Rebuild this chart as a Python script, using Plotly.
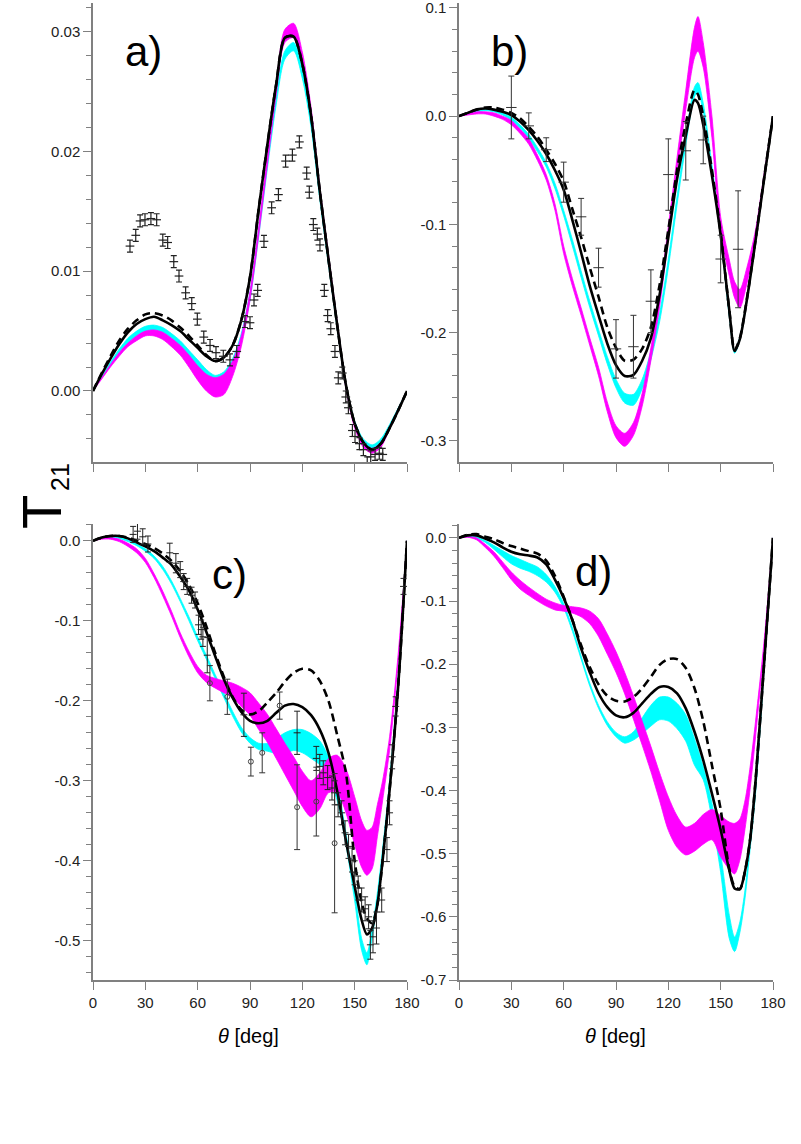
import plotly.graph_objects as go

# ---------------- tick definitions ----------------
THETA_TICKS = [0, 30, 60, 90, 120, 150, 180]
THETA_LABELS = ["0", "30", "60", "90", "120", "150", "180"]

A_YTICKS = [0.0, 0.01, 0.02, 0.03]
A_YLABELS = ["0.00", "0.01", "0.02", "0.03"]
B_YTICKS = [-0.3, -0.2, -0.1, 0.0, 0.1]
B_YLABELS = ["-0.3", "-0.2", "-0.1", "0.0", "0.1"]
C_YTICKS = [-0.5, -0.4, -0.3, -0.2, -0.1, 0.0]
C_YLABELS = ["-0.5", "-0.4", "-0.3", "-0.2", "-0.1", "0.0"]
D_YTICKS = [-0.7, -0.6, -0.5, -0.4, -0.3, -0.2, -0.1, 0.0]
D_YLABELS = ["-0.7", "-0.6", "-0.5", "-0.4", "-0.3", "-0.2", "-0.1", "0.0"]

PANEL_LABELS = ["a)", "b)", "c)", "d)"]
X_TITLE = "<i>θ</i> [deg]"

# ---------------- panel a ----------------
A_THETA = [0, 5, 10, 15, 20, 25, 30, 35, 40, 45, 50, 55, 60, 65, 70, 75, 80, 85, 90,
           95, 100, 105, 110, 115, 120, 125, 130, 135, 140, 145, 150, 155, 160, 165, 170, 175, 180]
A_SOLID = [0, 0.0014, 0.0027, 0.0039, 0.0049, 0.0056, 0.0060, 0.0062, 0.0059, 0.0055, 0.0050, 0.0043,
           0.0036, 0.0029, 0.0025, 0.0028, 0.0038, 0.0059, 0.0095, 0.0152, 0.0206, 0.0256, 0.0295, 0.0296,
           0.0273, 0.0230, 0.0167, 0.0110, 0.0055, 0.0005, -0.0027, -0.0043, -0.0049, -0.0044, -0.0031, -0.0016, 0]
A_DASHED = [0, 0.0015, 0.0029, 0.0042, 0.0052, 0.0059, 0.0064, 0.0065, 0.0063, 0.0059, 0.0053, 0.0046,
            0.0038, 0.0030, 0.0025, 0.0028, 0.0038, 0.0059, 0.0095, 0.0152, 0.0206, 0.0256, 0.0295, 0.0296,
            0.0273, 0.0230, 0.0167, 0.0110, 0.0055, 0.0005, -0.0027, -0.0043, -0.0049, -0.0044, -0.0031, -0.0016, 0]
A_CYAN_HI = [0, 0.0012, 0.0024, 0.0035, 0.0044, 0.0050, 0.0054, 0.0055, 0.0053, 0.0048, 0.0042, 0.0034,
             0.0026, 0.0018, 0.0013, 0.0016, 0.0027, 0.0048, 0.0083, 0.0136, 0.0193, 0.0246, 0.0284, 0.0291,
             0.0268, 0.0226, 0.0165, 0.0110, 0.0056, 0.0006, -0.0025, -0.0040, -0.0045, -0.0040, -0.0028, -0.0014, 0]
A_CYAN_LO = [0, 0.0011, 0.0022, 0.0032, 0.0040, 0.0046, 0.0050, 0.0051, 0.0049, 0.0044, 0.0037, 0.0029,
             0.0020, 0.0013, 0.0009, 0.0012, 0.0022, 0.0042, 0.0076, 0.0129, 0.0186, 0.0239, 0.0277, 0.0284,
             0.0261, 0.0220, 0.0160, 0.0105, 0.0052, 0.0003, -0.0028, -0.0043, -0.0048, -0.0043, -0.0030, -0.0015, 0]
A_MAG_HI = [0, 0.0011, 0.0022, 0.0032, 0.0040, 0.0046, 0.0050, 0.0051, 0.0049, 0.0044, 0.0038, 0.0030,
            0.0021, 0.0014, 0.0011, 0.0014, 0.0025, 0.0046, 0.0083, 0.0137, 0.0197, 0.0256, 0.0302, 0.0307,
            0.0283, 0.0237, 0.0171, 0.0114, 0.0058, 0.0006, -0.0027, -0.0043, -0.0048, -0.0043, -0.0030, -0.0015, 0]
A_MAG_LO = [0, 0.0010, 0.0020, 0.0029, 0.0037, 0.0042, 0.0046, 0.0046, 0.0043, 0.0037, 0.0030, 0.0020,
            0.0009, 0.0000, -0.0005, -0.0003, 0.0012, 0.0037, 0.0076, 0.0130, 0.0189, 0.0247, 0.0291, 0.0295,
            0.0273, 0.0229, 0.0165, 0.0109, 0.0054, 0.0002, -0.0031, -0.0047, -0.0052, -0.0047, -0.0032, -0.0016, 0]
A_DATA_THETA = [21.2, 24.5, 27, 29.8, 33.2, 36.5, 40, 42.8, 46.3, 49.3, 53.1, 56.6, 59.8, 63.5, 67.1, 70.5,
                74.7, 78.5, 82.4, 87.1, 90, 92.3, 94.4, 98, 102.4, 106.3, 110.4, 114.3, 118.3, 122.5, 124,
                126.3, 128.6, 130.1, 132.6, 134.5, 136.3, 138.7, 140.6, 142.9, 144.9, 146.4, 148.7, 150.2,
                152.7, 155, 157.2, 159.2, 161.7, 164.1, 166.1]
A_DATA_VAL = [0.0121, 0.0130, 0.0142, 0.0143, 0.0144, 0.0143, 0.0126, 0.0124, 0.0108, 0.0096, 0.0082,
              0.0073, 0.0060, 0.0045, 0.0038, 0.0032, 0.0029, 0.0026, 0.0033, 0.0058, 0.0057, 0.0076, 0.0084,
              0.0125, 0.0153, 0.0164, 0.0192, 0.0197, 0.0208, 0.0182, 0.0166, 0.0139, 0.0131, 0.0122, 0.0084,
              0.0063, 0.0052, 0.0033, 0.0011, 0.0015, -0.0005, -0.0014, -0.0033, -0.0038, -0.0044, -0.0049,
              -0.0060, -0.0055, -0.0053, -0.0052, -0.0053]
A_DATA_ERR = [0.0005] * len(A_DATA_THETA)
A_DATA_XERR = [2.5] * len(A_DATA_THETA)

# ---------------- panel b ----------------
B_THETA = [0, 5, 10, 15, 20, 25, 30, 35, 40, 45, 50, 55, 60, 65, 70, 75, 80, 85, 90, 95, 100, 105, 110,
           115, 120, 125, 130, 135, 137, 140, 145, 150, 155, 158, 161, 165, 170, 175, 180]
B_SOLID = [0, 0.003, 0.006, 0.007, 0.006, 0.004, 0.001, -0.005, -0.013, -0.023, -0.035, -0.05, -0.068,
           -0.096, -0.126, -0.157, -0.184, -0.210, -0.230, -0.240, -0.239, -0.226, -0.205, -0.165, -0.112,
           -0.058, -0.018, 0.015, 0.012, -0.008, -0.055, -0.11, -0.18, -0.217, -0.206, -0.17, -0.115, -0.057, 0]
B_DASHED = [0, 0.003, 0.006, 0.008, 0.008, 0.006, 0.003, -0.002, -0.01, -0.019, -0.031, -0.044, -0.06,
            -0.086, -0.112, -0.14, -0.167, -0.195, -0.214, -0.226, -0.225, -0.215, -0.195, -0.156, -0.105,
            -0.05, -0.007, 0.024, 0.02, 0.0, -0.05, -0.108, -0.18, -0.216, -0.205, -0.169, -0.114, -0.056, 0]
B_CYAN_HI = [0, 0.003, 0.005, 0.006, 0.005, 0.003, -0.001, -0.008, -0.017, -0.029, -0.043, -0.062, -0.087,
             -0.114, -0.143, -0.171, -0.197, -0.222, -0.243, -0.256, -0.257, -0.243, -0.217, -0.182, -0.132,
             -0.074, -0.019, 0.027, 0.031, 0.012, -0.045, -0.108, -0.182, -0.216, -0.204, -0.169, -0.114, -0.056, 0]
B_CYAN_LO = [0, 0.002, 0.004, 0.005, 0.004, 0.001, -0.004, -0.011, -0.021, -0.033, -0.047, -0.067, -0.092,
             -0.12, -0.149, -0.177, -0.203, -0.229, -0.251, -0.265, -0.267, -0.252, -0.225, -0.19, -0.14,
             -0.082, -0.027, 0.018, 0.022, 0.004, -0.05, -0.112, -0.186, -0.219, -0.207, -0.172, -0.116, -0.057, 0]
B_MAG_HI = [0, 0.002, 0.004, 0.004, 0.003, 0.0, -0.004, -0.012, -0.021, -0.036, -0.054, -0.081, -0.12,
            -0.15, -0.177, -0.205, -0.232, -0.264, -0.286, -0.293, -0.283, -0.256, -0.214, -0.164, -0.102,
            -0.038, 0.024, 0.082, 0.092, 0.068, 0.0, -0.093, -0.133, -0.153, -0.16, -0.14, -0.105, -0.052, 0]
B_MAG_LO = [0, 0.001, 0.002, 0.002, 0.0, -0.003, -0.008, -0.016, -0.026, -0.041, -0.059, -0.087, -0.127,
            -0.157, -0.184, -0.212, -0.24, -0.273, -0.297, -0.305, -0.295, -0.268, -0.226, -0.176, -0.114,
            -0.052, 0.006, 0.054, 0.06, 0.045, -0.02, -0.108, -0.148, -0.168, -0.177, -0.155, -0.115, -0.058, 0]
B_DATA_THETA = [30, 40, 50, 60, 70, 80, 90, 100, 110, 120, 130, 140, 150, 160]
B_DATA_VAL = [0.008, -0.009, -0.031, -0.061, -0.093, -0.140, -0.215, -0.213, -0.171, -0.054, -0.032,
              -0.022, -0.132, -0.123]
B_DATA_ERR = [0.029, 0.012, 0.011, 0.0185, 0.017, 0.018, 0.027, 0.029, 0.029, 0.033, 0.027, 0.022, 0.022, 0.054]
B_DATA_XERR = [3] * len(B_DATA_THETA)

# ---------------- panel c ----------------
C_THETA = [0, 5, 10, 15, 20, 25, 30, 35, 40, 45, 50, 55, 60, 65, 70, 75, 80, 85, 90, 95, 100, 105, 110,
           115, 120, 125, 130, 135, 140, 145, 150, 154, 157, 160, 163, 166, 170, 175, 180]
C_SOLID = [0, 0.004, 0.006, 0.006, 0.003, -0.002, -0.007, -0.013, -0.021, -0.030, -0.045, -0.062, -0.086,
           -0.114, -0.144, -0.173, -0.196, -0.214, -0.225, -0.228, -0.225, -0.215, -0.206, -0.204, -0.208,
           -0.218, -0.236, -0.265, -0.313, -0.375, -0.432, -0.474, -0.492, -0.484, -0.455, -0.4, -0.312, -0.18, 0]
C_DASHED = [0, 0.004, 0.006, 0.006, 0.004, 0.0, -0.004, -0.009, -0.016, -0.025, -0.038, -0.055, -0.078,
            -0.107, -0.14, -0.17, -0.195, -0.211, -0.217, -0.213, -0.202, -0.19, -0.176, -0.165, -0.16,
            -0.162, -0.175, -0.2, -0.243, -0.29, -0.40, -0.452, -0.472, -0.478, -0.455, -0.4, -0.312, -0.18, 0]
C_CYAN_HI = [0, 0.004, 0.005, 0.004, 0.001, -0.004, -0.01, -0.019, -0.032, -0.05, -0.072, -0.095, -0.12,
             -0.143, -0.167, -0.19, -0.213, -0.233, -0.246, -0.253, -0.253, -0.247, -0.24, -0.236, -0.236,
             -0.241, -0.25, -0.27, -0.305, -0.365, -0.435, -0.497, -0.515, -0.485, -0.44, -0.385, -0.3, -0.168, 0]
C_CYAN_LO = [0, 0.003, 0.004, 0.003, -0.001, -0.006, -0.013, -0.022, -0.036, -0.054, -0.076, -0.1, -0.125,
             -0.148, -0.172, -0.196, -0.219, -0.239, -0.253, -0.261, -0.263, -0.266, -0.266, -0.262, -0.265,
             -0.272, -0.28, -0.295, -0.325, -0.38, -0.45, -0.512, -0.53, -0.497, -0.45, -0.395, -0.307, -0.172, 0]
C_MAG_HI = [0, 0.003, 0.004, 0.002, -0.003, -0.01, -0.022, -0.041, -0.063, -0.088, -0.115, -0.138, -0.157,
            -0.168, -0.172, -0.175, -0.178, -0.183, -0.19, -0.203, -0.217, -0.235, -0.253, -0.27, -0.288,
            -0.3, -0.29, -0.272, -0.268, -0.285, -0.32, -0.35, -0.362, -0.358, -0.33, -0.3, -0.245, -0.14, 0]
C_MAG_LO = [0, 0.002, 0.002, -0.001, -0.007, -0.015, -0.027, -0.046, -0.069, -0.094, -0.121, -0.145, -0.165,
            -0.177, -0.184, -0.19, -0.196, -0.207, -0.218, -0.236, -0.252, -0.272, -0.292, -0.312, -0.332,
            -0.345, -0.335, -0.315, -0.315, -0.34, -0.38, -0.408, -0.418, -0.41, -0.37, -0.325, -0.262, -0.15, 0]
C_CROSS_THETA = [23, 25.5, 28.5, 31.5, 44, 47.5, 50, 52, 54, 56.5, 58.5, 60.5, 62, 63, 65.5, 86.5, 117,
                 128, 130, 132, 134.5, 137, 138.5, 140.5, 142.5, 144.5, 146.5, 148.5, 150, 152, 154, 156,
                 158, 159, 160.5, 162.5, 165.5, 168.5, 170, 171.5, 173.5, 178]
C_CROSS_VAL = [0.008, 0.012, 0.005, -0.004, -0.015, -0.028, -0.036, -0.051, -0.057, -0.068, -0.074, -0.105,
               -0.111, -0.12, -0.143, -0.2175, -0.24, -0.272, -0.282, -0.29, -0.296, -0.309, -0.315, -0.33,
               -0.34, -0.365, -0.382, -0.399, -0.415, -0.434, -0.449, -0.46, -0.47, -0.505, -0.495, -0.484,
               -0.449, -0.386, -0.34, -0.27, -0.207, -0.057]
C_CROSS_ERR = [0.01, 0.01, 0.01, 0.01, 0.012, 0.012, 0.01, 0.01, 0.01, 0.01, 0.01, 0.012, 0.012, 0.012,
               0.022, 0.027, 0.027, 0.015, 0.015, 0.015, 0.015, 0.015, 0.015, 0.015, 0.015, 0.015, 0.015,
               0.015, 0.015, 0.015, 0.015, 0.015, 0.015, 0.018, 0.02, 0.02, 0.015, 0.015, 0.015, 0.015,
               0.012, 0.01]
C_CROSS_XERR = [2] * len(C_CROSS_THETA)
C_CIRC_THETA = [67, 77, 90.5, 97, 107, 117, 128, 138.5]
C_CIRC_VAL = [-0.178, -0.195, -0.276, -0.265, -0.206, -0.333, -0.326, -0.378]
C_CIRC_ERR = [0.022, 0.022, 0.018, 0.025, 0.017, 0.053, 0.043, 0.087]

# ---------------- panel d ----------------
D_THETA = [0, 5, 10, 15, 20, 25, 30, 35, 40, 45, 50, 55, 60, 65, 70, 75, 80, 85, 90, 95, 100, 105, 110,
           115, 120, 125, 130, 135, 140, 145, 150, 155, 158, 161, 164, 167, 170, 175, 180]
D_SOLID = [0, 0.004, 0.004, -0.001, -0.007, -0.015, -0.022, -0.026, -0.028, -0.031, -0.042, -0.066, -0.095,
           -0.13, -0.175, -0.213, -0.246, -0.268, -0.281, -0.284, -0.277, -0.262, -0.247, -0.236, -0.236,
           -0.246, -0.27, -0.307, -0.352, -0.405, -0.462, -0.527, -0.555, -0.556, -0.527, -0.475, -0.385, -0.195, 0]
D_DASHED = [0, 0.005, 0.006, 0.002, -0.002, -0.008, -0.013, -0.017, -0.021, -0.025, -0.036, -0.06, -0.093,
            -0.13, -0.17, -0.205, -0.232, -0.25, -0.258, -0.259, -0.252, -0.238, -0.22, -0.201, -0.192,
            -0.192, -0.206, -0.238, -0.29, -0.36, -0.43, -0.525, -0.552, -0.556, -0.527, -0.475, -0.385, -0.195, 0]
D_CYAN_HI = [0, 0.003, 0.002, -0.004, -0.012, -0.02, -0.028, -0.034, -0.04, -0.046, -0.058, -0.077, -0.104,
             -0.142, -0.187, -0.23, -0.265, -0.291, -0.308, -0.315, -0.307, -0.285, -0.265, -0.252, -0.252,
             -0.262, -0.28, -0.318, -0.362, -0.42, -0.5, -0.598, -0.632, -0.608, -0.556, -0.475, -0.395, -0.2, 0]
D_CYAN_LO = [0, 0.002, 0.0, -0.007, -0.018, -0.03, -0.041, -0.048, -0.053, -0.06, -0.07, -0.086, -0.111,
             -0.148, -0.192, -0.235, -0.27, -0.297, -0.315, -0.325, -0.32, -0.31, -0.298, -0.288, -0.29,
             -0.302, -0.322, -0.36, -0.383, -0.445, -0.53, -0.635, -0.655, -0.625, -0.57, -0.49, -0.405, -0.205, 0]
D_MAG_HI = [0, 0.002, 0.0, -0.01, -0.022, -0.038, -0.054, -0.067, -0.078, -0.088, -0.097, -0.103, -0.107,
            -0.109, -0.111, -0.116, -0.128, -0.152, -0.18, -0.213, -0.25, -0.29, -0.33, -0.372, -0.41, -0.44,
            -0.458, -0.452, -0.438, -0.43, -0.44, -0.45, -0.452, -0.445, -0.415, -0.36, -0.29, -0.16, 0]
D_MAG_LO = [0, 0.001, -0.003, -0.015, -0.029, -0.047, -0.066, -0.081, -0.091, -0.1, -0.108, -0.114, -0.116,
            -0.119, -0.125, -0.136, -0.156, -0.184, -0.213, -0.247, -0.287, -0.328, -0.37, -0.416, -0.463,
            -0.49, -0.502, -0.496, -0.485, -0.478, -0.505, -0.525, -0.532, -0.51, -0.46, -0.395, -0.315, -0.17, 0]

# ---------------- styling ----------------
MAGENTA = "#FF00FF"
CYAN = "#00FFFF"
BLACK = "#000000"
AXIS_GREY = "#808080"
FONT = "Liberation Sans, Arial, sans-serif"
W, H = 801, 1144


def px_x(p):
    return p / W


def px_y(p):
    return 1 - p / H


XL = [px_x(93), px_x(407)]
XR = [px_x(459), px_x(773)]
YT = [px_y(462), px_y(3)]
YB = [px_y(980), px_y(524)]

fig = go.Figure()


def band(theta, hi, lo, color, xa, ya):
    fig.add_trace(go.Scatter(x=theta, y=hi, mode="lines", line=dict(color=color, width=0.8, shape="spline", smoothing=0.8),
                             xaxis=xa, yaxis=ya, showlegend=False, hoverinfo="skip"))
    fig.add_trace(go.Scatter(x=theta, y=lo, mode="lines", line=dict(color=color, width=0.8, shape="spline", smoothing=0.8),
                             fill="tonexty", fillcolor=color, xaxis=xa, yaxis=ya, showlegend=False, hoverinfo="skip"))


def curve(theta, vals, dash, xa, ya):
    fig.add_trace(go.Scatter(x=theta, y=vals, mode="lines",
                             line=dict(color=BLACK, width=2.6, dash=dash, shape="spline", smoothing=0.8),
                             xaxis=xa, yaxis=ya, showlegend=False, hoverinfo="skip"))


def crosses(theta, vals, err, xerr, xa, ya, color="#222222", thick=1.2, capw=3):
    fig.add_trace(go.Scatter(x=theta, y=vals, mode="markers", marker=dict(size=1, color=color),
                             error_y=dict(type="data", array=err, color=color, thickness=thick, width=capw),
                             error_x=dict(type="data", array=xerr, color=color, thickness=thick, width=0),
                             xaxis=xa, yaxis=ya, showlegend=False, hoverinfo="skip"))


panels = [
    ("x", "y", A_THETA, A_SOLID, A_DASHED, A_CYAN_HI, A_CYAN_LO, A_MAG_HI, A_MAG_LO),
    ("x2", "y2", B_THETA, B_SOLID, B_DASHED, B_CYAN_HI, B_CYAN_LO, B_MAG_HI, B_MAG_LO),
    ("x3", "y3", C_THETA, C_SOLID, C_DASHED, C_CYAN_HI, C_CYAN_LO, C_MAG_HI, C_MAG_LO),
    ("x4", "y4", D_THETA, D_SOLID, D_DASHED, D_CYAN_HI, D_CYAN_LO, D_MAG_HI, D_MAG_LO),
]
for xa, ya, th, so, da, chi, clo, mhi, mlo in panels:
    band(th, chi, clo, CYAN, xa, ya)
    band(th, mhi, mlo, MAGENTA, xa, ya)
    curve(th, da, "8px,5px", xa, ya)
    curve(th, so, "solid", xa, ya)

crosses(A_DATA_THETA, A_DATA_VAL, A_DATA_ERR, A_DATA_XERR, "x", "y")
crosses(B_DATA_THETA, B_DATA_VAL, B_DATA_ERR, B_DATA_XERR, "x2", "y2", color="#333333", thick=1, capw=3)
crosses(C_CROSS_THETA, C_CROSS_VAL, C_CROSS_ERR, C_CROSS_XERR, "x3", "y3", color="#222222", thick=1, capw=3)
fig.add_trace(go.Scatter(x=C_CIRC_THETA, y=C_CIRC_VAL, mode="markers",
                         marker=dict(symbol="circle-open", size=5, color="#444444", line=dict(width=1)),
                         error_y=dict(type="data", array=C_CIRC_ERR, color="#333333", thickness=1, width=3),
                         xaxis="x3", yaxis="y3", showlegend=False, hoverinfo="skip"))


def xaxis(domain, anchor, labels):
    return dict(domain=domain, anchor=anchor, range=[0, 180], showline=True, linecolor=AXIS_GREY, linewidth=1.5,
                ticks="outside", ticklen=8, tickwidth=1.2, tickcolor=AXIS_GREY, tickmode="array",
                tickvals=THETA_TICKS, ticktext=THETA_LABELS, showticklabels=labels, showgrid=False,
                zeroline=False, tickfont=dict(family=FONT, size=15, color="#222222"))


def yaxis(domain, anchor, rng, vals, text, minor):
    return dict(domain=domain, anchor=anchor, range=rng, showline=True, linecolor=AXIS_GREY, linewidth=1.5,
                ticks="outside", ticklen=8, tickwidth=1.2, tickcolor=AXIS_GREY, tickmode="array",
                tickvals=vals, ticktext=text, showgrid=False, zeroline=False, ticklabeloverflow="allow",
                tickfont=dict(family=FONT, size=15, color="#222222"),
                minor=dict(tickmode="linear", tick0=0, dtick=minor, ticks="outside", ticklen=5,
                           tickcolor=AXIS_GREY, tickwidth=1, showgrid=False))


ann = []
label_pos = [(143, 52), (509, 52), (230, 574), (593, 571)]
for lab, (px, py) in zip(PANEL_LABELS, label_pos):
    ann.append(dict(text=lab, x=px_x(px), y=px_y(py), xref="paper", yref="paper", showarrow=False,
                    xanchor="center", yanchor="middle", font=dict(family=FONT, size=42, color="black")))
for px in (249, 615):
    ann.append(dict(text=X_TITLE, x=px_x(px), y=px_y(1036), xref="paper", yref="paper", showarrow=False,
                    xanchor="center", yanchor="middle", font=dict(family=FONT, size=20, color="black")))
ann.append(dict(text="T", x=px_x(42), y=px_y(512), xref="paper", yref="paper", showarrow=False,
                textangle=-90, xanchor="center", yanchor="middle", font=dict(family=FONT, size=56, color="black")))
ann.append(dict(text="21", x=px_x(60), y=px_y(477), xref="paper", yref="paper", showarrow=False,
                textangle=-90, xanchor="center", yanchor="middle", font=dict(family=FONT, size=25, color="black")))

fig.update_layout(
    width=W, height=H, autosize=False, template="none",
    paper_bgcolor="white", plot_bgcolor="white",
    margin=dict(l=0, r=0, t=0, b=0),
    showlegend=False,
    xaxis=xaxis(XL, "y", False),
    yaxis=yaxis(YT, "x", [-0.00593, 0.0324], A_YTICKS, A_YLABELS, 0.002),
    xaxis2=xaxis(XR, "y2", False),
    yaxis2=yaxis(YT, "x2", [-0.3195, 0.1045], B_YTICKS, B_YLABELS, 0.02),
    xaxis3=xaxis(XL, "y3", True),
    yaxis3=yaxis(YB, "x3", [-0.549, 0.021], C_YTICKS, C_YLABELS, 0.02),
    xaxis4=xaxis(XR, "y4", True),
    yaxis4=yaxis(YB, "x4", [-0.70, 0.022], D_YTICKS, D_YLABELS, 0.02),
    annotations=ann,
)

# remove the default 8px page margin so the figure fills the browser window exactly
fig.write_html("out.html", config={"displayModeBar": False},
               post_script="document.body.style.margin='0px';")
